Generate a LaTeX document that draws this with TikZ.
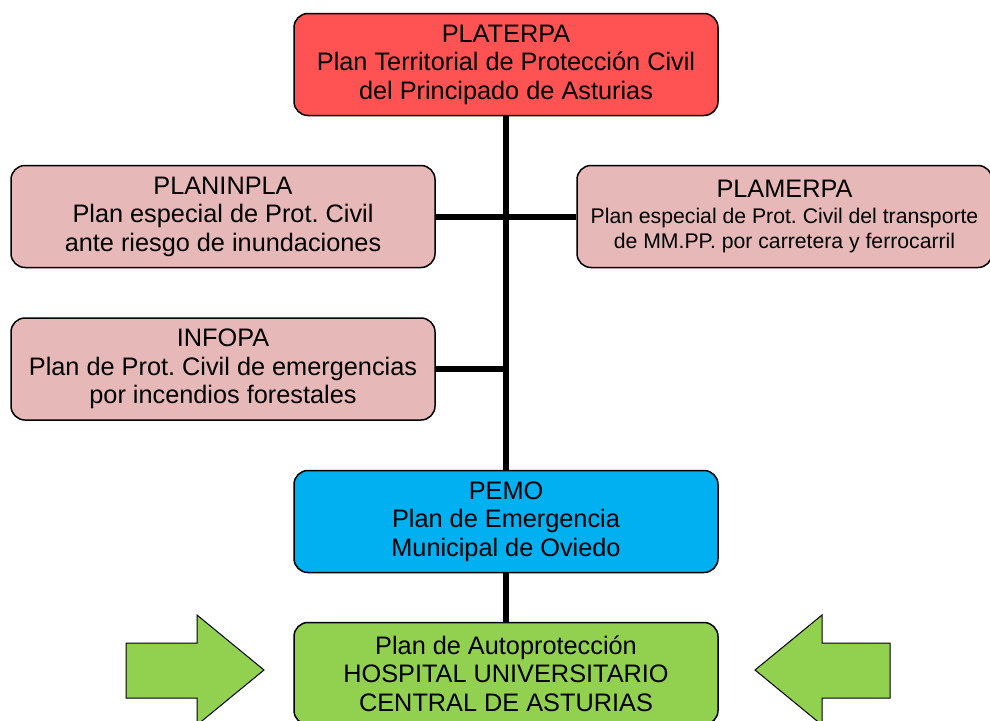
\documentclass[tikz,border=0pt]{standalone}
\usepackage{fontspec}
\setmainfont{Liberation Sans}
\frenchspacing
\definecolor{redbox}{HTML}{FF5353}
\definecolor{pinkbox}{HTML}{E6B8B7}
\definecolor{bluebox}{HTML}{00B0F0}
\definecolor{greenbox}{HTML}{92D050}
\begin{document}
\frenchspacing
\begin{tikzpicture}[x=1pt,y=-1pt,
  planbox/.style={draw=black, line width=1.5pt, rounded corners=14pt, align=center, inner sep=0pt,
    minimum width=424pt, minimum height=102pt, font=\fontsize{25.3}{28.5}\selectfont},
  smallbox/.style={planbox, minimum width=415pt, font=\fontsize{21.2}{25.5}\selectfont},
  link/.style={line width=6pt},
  bigarrow/.style={draw=black, line width=1pt, fill=greenbox}]
\useasboundingbox (0,0) rectangle (990,720);
\begin{scope}
\clip (0,0) rectangle (990,720);
\node[planbox, fill=redbox] (top) at (506,64.5) {PLATERPA\\Plan Territorial de Protección Civil\\del Principado de Asturias};
\node[planbox, fill=pinkbox] (planinpla) at (223,216.5) {PLANINPLA\\Plan especial de Prot. Civil\\ante riesgo de inundaciones};
\node[smallbox, fill=pinkbox] (plamerpa) at (784.5,216.5) {{\fontsize{25.3}{28.5}\selectfont PLAMERPA}\\Plan especial de Prot. Civil del transporte\\de MM.PP. por carretera y ferrocarril};
\node[planbox, fill=pinkbox] (infopa) at (223,369) {INFOPA\\Plan de Prot. Civil de emergencias\\por incendios forestales};
\node[planbox, fill=bluebox] (pemo) at (506,521.5) {PEMO\\Plan de Emergencia\\Municipal de Oviedo};
\node[planbox, fill=greenbox] (hosp) at (506,673.5) {Plan de Autoprotección\\HOSPITAL UNIVERSITARIO\\CENTRAL DE ASTURIAS};
\draw[link] (top.south) -- (pemo.north);
\draw[link] (pemo.south) -- (hosp.north);
\draw[link] (planinpla.east) -- (plamerpa.west);
\draw[link] (infopa.east) -- (infopa.east -| top.south);
\draw[bigarrow] (126,643) -- (197,643) -- (197,615) -- (264,670) -- (197,725) -- (197,698) -- (126,698) -- cycle;
\draw[bigarrow] (890,643) -- (822,643) -- (822,615) -- (755,670) -- (822,725) -- (822,698) -- (890,698) -- cycle;
\end{scope}
\end{tikzpicture}
\end{document}
